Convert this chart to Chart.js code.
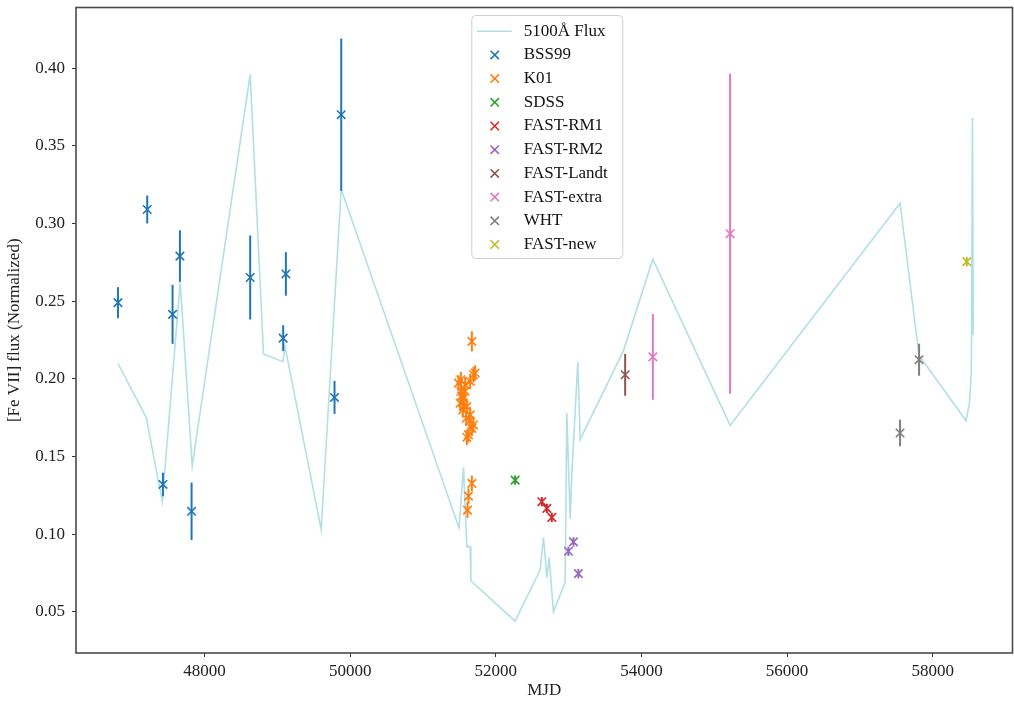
<!DOCTYPE html>
<html>
<head>
<meta charset="utf-8">
<title>[Fe VII] flux vs MJD</title>
<script src="https://cdn.jsdelivr.net/npm/chart.js@4.4.1/dist/chart.umd.min.js"></script>
<style>
  html, body { margin: 0; padding: 0; background: #fff; }
  #wrap { width: 1014px; height: 702px; }
</style>
</head>
<body>
<div id="wrap"><canvas id="grafico" width="1014" height="702"></canvas></div>
<script>
// 5100A continuum flux (normalised), drawn as a plain polyline
const fluxMJD = [46811, 47200, 47420, 47666, 47831, 48627, 48810, 49076, 49104, 49602, 49877,
  51495, 51556, 51602, 51648, 51657, 52265, 52609, 52655, 52701, 52732, 52791, 52952, 52975,
  53021, 53044, 53126, 53158, 53752, 54156, 55217, 57551, 57812, 58457, 58505, 58530, 58545, 58556];
const fluxValues = [0.210, 0.175, 0.121, 0.262, 0.144, 0.396, 0.216, 0.211, 0.221, 0.103, 0.322,
  0.104, 0.143, 0.092, 0.092, 0.070, 0.044, 0.077, 0.098, 0.072, 0.085, 0.050, 0.069, 0.178,
  0.110, 0.139, 0.211, 0.161, 0.218, 0.277, 0.170, 0.313, 0.215, 0.173, 0.185, 0.205, 0.368, 0.228];

// [Fe VII] points per data source
const bssMJD = [46811, 47213, 47429, 47561, 47662, 47822, 48627, 49080, 49117, 49785, 49877];
const bssValues = [0.249, 0.309, 0.132, 0.2415, 0.279, 0.1147, 0.2652, 0.2262, 0.2675, 0.188, 0.370];
const bssErr = [0.010, 0.009, 0.0076, 0.019, 0.0166, 0.0185, 0.027, 0.0083, 0.014, 0.0106, 0.049];

const k01MJD = [51487, 51510, 51520, 51520, 51530, 51547, 51556, 51565, 51579, 51580, 51593, 51602, 51602,
  51624, 51640, 51648, 51648, 51671, 51671, 51693, 51693, 51716, 51671, 51624, 51611];
const k01Values = [0.1972, 0.1843, 0.1994, 0.1918, 0.1890, 0.1800, 0.1875, 0.1830, 0.1961, 0.1920, 0.1746, 0.1821, 0.1624,
  0.1639, 0.1730, 0.1983, 0.1768, 0.2241, 0.1682, 0.2026, 0.1703, 0.2037, 0.1327, 0.1245, 0.1155];
const k01Err = [0.005, 0.005, 0.005, 0.005, 0.005, 0.005, 0.005, 0.005, 0.005, 0.005, 0.005, 0.005, 0.005,
  0.005, 0.005, 0.005, 0.005, 0.0065, 0.005, 0.005, 0.005, 0.005, 0.005, 0.005, 0.005];

const sdssMJD = [52265];
const sdssValues = [0.1348];
const sdssErr = [0.003];

const rm1MJD = [52632, 52701, 52769];
const rm1Values = [0.1209, 0.1166, 0.1108];
const rm1Err = [0.003, 0.003, 0.003];

const rm2MJD = [52997, 53066, 53134];
const rm2Values = [0.0890, 0.0950, 0.0746];
const rm2Err = [0.003, 0.003, 0.003];

const landtMJD = [53776];
const landtValues = [0.2026];
const landtErr = [0.0135];

const extraMJD = [54156, 55217];
const extraValues = [0.2141, 0.2934];
const extraErr = [0.0276, 0.103];

const whtMJD = [57551, 57812];
const whtValues = [0.1651, 0.2123];
const whtErr = [0.0086, 0.0103];

const newMJD = [58467];
const newValues = [0.2754];
const newErr = [0.003];

const xTicks = [48000, 50000, 52000, 54000, 56000, 58000];
const yTicks = [0.05, 0.10, 0.15, 0.20, 0.25, 0.30, 0.35, 0.40];

const FONTE = 'Liberation Serif';
const TAM = 17;

function pontos(mjd, valores) {
  return mjd.map((m, i) => ({ x: m, y: valores[i] }));
}

function serie(rotulo, cor, mjd, valores, erros) {
  return {
    label: rotulo,
    data: pontos(mjd, valores),
    erros: erros,
    borderColor: cor,
    backgroundColor: cor,
    pointStyle: 'crossRot',
    pointRadius: 6,
    pointHoverRadius: 6,
    pointBorderWidth: 1.6,
    showLine: false,
    order: 0
  };
}

// vertical error bars, drawn right before each dataset's markers
const barrasErro = {
  id: 'barrasErro',
  beforeDatasetDraw(chart, args) {
    const ds = chart.data.datasets[args.index];
    if (!ds.erros) return;
    const { ctx, scales: { x, y } } = chart;
    ctx.save();
    ctx.strokeStyle = ds.borderColor;
    ctx.lineWidth = 2;
    ds.data.forEach((p, i) => {
      const px = x.getPixelForValue(p.x);
      ctx.beginPath();
      ctx.moveTo(px, y.getPixelForValue(p.y - ds.erros[i]));
      ctx.lineTo(px, y.getPixelForValue(p.y + ds.erros[i]));
      ctx.stroke();
    });
    ctx.restore();
  }
};

// box around the plot area (all four sides)
const moldura = {
  id: 'moldura',
  afterDatasetsDraw(chart) {
    const { ctx, chartArea: a } = chart;
    ctx.save();
    ctx.strokeStyle = '#4a4a4a';
    ctx.lineWidth = 1.6;
    ctx.strokeRect(a.left, a.top, a.right - a.left, a.bottom - a.top);
    ctx.restore();
  }
};

// legend box at the upper centre, one entry per row
const legenda = {
  id: 'legenda',
  afterDraw(chart) {
    const { ctx, chartArea: a } = chart;
    const w = 151, h = 243;
    const x0 = (a.left + a.right) / 2 - w / 2 + 3;
    const y0 = a.top + 8;
    const passo = 23.7;
    ctx.save();
    ctx.fillStyle = 'rgba(255,255,255,0.85)';
    ctx.strokeStyle = '#d0d0d0';
    ctx.lineWidth = 1;
    ctx.beginPath();
    ctx.roundRect(x0, y0, w, h, 4);
    ctx.fill();
    ctx.stroke();

    ctx.font = TAM + 'px "' + FONTE + '"';
    ctx.textBaseline = 'middle';
    ctx.textAlign = 'left';
    chart.data.datasets.forEach((ds, i) => {
      const cy = y0 + 15.7 + i * passo;
      ctx.strokeStyle = ds.borderColor;
      if (ds.showLine) {
        ctx.lineWidth = 1.6;
        ctx.beginPath();
        ctx.moveTo(x0 + 5, cy);
        ctx.lineTo(x0 + 40, cy);
        ctx.stroke();
      } else {
        const r = 4.2, cx = x0 + 23;
        ctx.lineWidth = 1.6;
        ctx.beginPath();
        ctx.moveTo(cx - r, cy - r); ctx.lineTo(cx + r, cy + r);
        ctx.moveTo(cx + r, cy - r); ctx.lineTo(cx - r, cy + r);
        ctx.stroke();
      }
      ctx.fillStyle = '#111';
      ctx.fillText(ds.label, x0 + 52, cy);
    });
    ctx.restore();
  }
};

const ctx = document.getElementById('grafico').getContext('2d');
const grafico = new Chart(ctx, {
  type: 'scatter',
  data: {
    datasets: [
      {
        label: '5100Å Flux',
        data: pontos(fluxMJD, fluxValues),
        borderColor: 'powderblue',
        backgroundColor: 'powderblue',
        borderWidth: 1.6,
        pointRadius: 0,
        pointHoverRadius: 0,
        showLine: true,
        tension: 0,
        order: 1
      },
      serie('BSS99', '#1f77b4', bssMJD, bssValues, bssErr),
      serie('K01', '#ff7f0e', k01MJD, k01Values, k01Err),
      serie('SDSS', '#2ca02c', sdssMJD, sdssValues, sdssErr),
      serie('FAST-RM1', '#d62728', rm1MJD, rm1Values, rm1Err),
      serie('FAST-RM2', '#9467bd', rm2MJD, rm2Values, rm2Err),
      serie('FAST-Landt', '#8c564b', landtMJD, landtValues, landtErr),
      serie('FAST-extra', '#e377c2', extraMJD, extraValues, extraErr),
      serie('WHT', '#7f7f7f', whtMJD, whtValues, whtErr),
      serie('FAST-new', '#bcbd22', newMJD, newValues, newErr)
    ]
  },
  options: {
    responsive: false,
    animation: false,
    devicePixelRatio: 1,
    layout: { autoPadding: false, padding: { top: 7.5, right: 1.5, left: 0, bottom: 0 } },
    plugins: {
      legend: { display: false },
      tooltip: { enabled: false }
    },
    scales: {
      x: {
        type: 'linear',
        min: 46235,
        max: 59095,
        afterBuildTicks: s => { s.ticks = xTicks.map(v => ({ value: v })); },
        afterFit: s => { s.height = 49; s.paddingLeft = 0; s.paddingRight = 0; },
        border: { display: false },
        grid: { display: true, drawOnChartArea: false, drawTicks: true, tickLength: 4, tickColor: '#333', tickWidth: 1 },
        ticks: {
          color: '#222', padding: 4, maxRotation: 0, autoSkip: false,
          font: { family: FONTE, size: TAM },
          callback: v => String(v)
        },
        title: {
          display: true, text: 'MJD', color: '#222',
          font: { family: FONTE, size: TAM },
          padding: { top: 0, bottom: 1 }
        }
      },
      y: {
        type: 'linear',
        min: 0.0235,
        max: 0.439,
        afterBuildTicks: s => { s.ticks = yTicks.map(v => ({ value: v })); },
        afterFit: s => { s.width = 76; s.paddingTop = 0; s.paddingBottom = 0; },
        border: { display: false },
        grid: { display: true, drawOnChartArea: false, drawTicks: true, tickLength: 4, tickColor: '#333', tickWidth: 1 },
        ticks: {
          color: '#222', padding: 7, autoSkip: false,
          font: { family: FONTE, size: TAM },
          callback: v => v.toFixed(2)
        },
        title: {
          display: true, text: '[Fe VII] flux (Normalized)', color: '#222',
          font: { family: FONTE, size: TAM },
          padding: { top: 4, bottom: 0 }
        }
      }
    }
  },
  plugins: [barrasErro, moldura, legenda]
});
</script>
</body>
</html>
